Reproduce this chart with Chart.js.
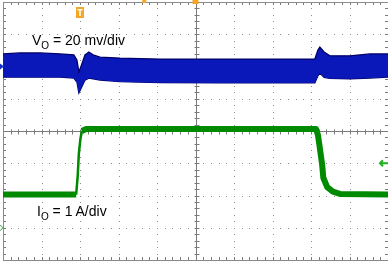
<!DOCTYPE html>
<html lang="en">
<head>
<meta charset="UTF-8">
<title>Load transient</title>
<script src="https://cdn.jsdelivr.net/npm/chart.js"></script>
<style>
    body { margin: 0; background: #fff; }
    .wrap { position: relative; width: 388px; height: 262px; }
    .lbl {
        position: absolute;
        font-family: 'Liberation Sans', Arial, sans-serif;
        font-size: 14px;
        line-height: 14px;
        color: #000;
        white-space: nowrap;
    }
    .lbl span { font-size: 10px; position: relative; top: 4px; }
</style>
</head>
<body>
<div class="wrap">
    <canvas id="scope" width="388" height="262"></canvas>
    <div class="lbl" style="left:32px; top:33px;">V<span>O</span> = 20 mv/div</div>
    <div class="lbl" style="left:37px; top:204px;">I<span>O</span> = 1 A/div</div>
</div>
<script>
// screen divisions: 10 across, 8 high (centre = 0)
const vTime   = [0, 0.44, 0.96, 1.48, 1.84, 1.92, 1.97, 2.03, 2.13, 2.23, 2.34, 2.52, 3.04, 4.08, 5.64, 7.19, 8.10, 8.18, 8.23, 8.34, 8.49, 9.01, 9.53, 10];
const vTop    = [2.39, 2.42, 2.42, 2.39, 2.36, 2.20, 1.83, 2.02, 2.36, 2.45, 2.36, 2.29, 2.26, 2.23, 2.23, 2.23, 2.23, 2.51, 2.60, 2.45, 2.33, 2.33, 2.39, 2.39];
const vBottom = [1.67, 1.67, 1.67, 1.67, 1.64, 1.52, 1.18, 1.33, 1.58, 1.64, 1.62, 1.58, 1.53, 1.50, 1.49, 1.49, 1.49, 1.71, 1.80, 1.66, 1.63, 1.62, 1.64, 1.67];

const iTime  = [0, 1.90, 1.94, 1.97, 2.01, 2.05, 2.16, 5, 8.13, 8.18, 8.23, 8.29, 8.32, 8.42, 8.57, 8.75, 10];
const iLevel = [-1.97, -1.97, -1.4, -0.7, -0.25, 0.0, 0.06, 0.06, 0.06, -0.12, -0.53, -1.05, -1.45, -1.74, -1.88, -1.95, -1.97];

function pts(xs, ys) {
    return xs.map(function(x, i) { return {x: x, y: ys[i]}; });
}

// the rising edge is drawn thin, as on the scope
function riseWidth(w) {
    return function(ctx) {
        return (ctx.p0.parsed.x >= 1.89 && ctx.p1.parsed.x <= 2.06) ? w : undefined;
    };
}

// scope graticule: dotted grid, centre cross and frame with minor ticks
const graticule = {
    id: 'graticule',
    beforeDatasetsDraw(chart) {
        const ctx = chart.ctx;
        const a = chart.chartArea;
        const x = chart.scales.x, y = chart.scales.y;
        ctx.save();
        ctx.fillStyle = '#8c8c8c';
        for (let i = 1; i < 10; i++) {
            if (i === 5) continue;
            const px = Math.round(x.getPixelForValue(i));
            for (let j = 0; j <= 40; j++) {
                ctx.fillRect(px, Math.round(y.getPixelForValue(-4 + j * 0.2)), 1, 1);
            }
        }
        for (let i = -3; i <= 3; i++) {
            if (i === 0) continue;
            const py = Math.round(y.getPixelForValue(i));
            for (let j = 0; j <= 50; j++) {
                ctx.fillRect(Math.round(x.getPixelForValue(j * 0.2)), py, 1, 1);
            }
        }
        ctx.strokeStyle = '#7a7a7a';
        ctx.lineWidth = 1;
        const cx = Math.round(x.getPixelForValue(5)) + 0.5;
        const cy = Math.round(y.getPixelForValue(0)) + 0.5;
        ctx.beginPath();
        ctx.moveTo(cx, a.top); ctx.lineTo(cx, a.bottom);
        ctx.moveTo(a.left, cy); ctx.lineTo(a.right, cy);
        for (let j = 0; j <= 50; j++) {
            const px = Math.round(x.getPixelForValue(j * 0.2)) + 0.5;
            ctx.moveTo(px, cy - 2); ctx.lineTo(px, cy + 3);
            ctx.moveTo(px, a.top); ctx.lineTo(px, a.top + 3);
            ctx.moveTo(px, a.bottom); ctx.lineTo(px, a.bottom - 3);
        }
        for (let j = 0; j <= 40; j++) {
            const py = Math.round(y.getPixelForValue(-4 + j * 0.2)) + 0.5;
            ctx.moveTo(cx - 2, py); ctx.lineTo(cx + 3, py);
            ctx.moveTo(a.left, py); ctx.lineTo(a.left + 3, py);
            ctx.moveTo(a.right, py); ctx.lineTo(a.right - 3, py);
        }
        ctx.stroke();
        ctx.strokeStyle = '#8a8a8a';
        ctx.strokeRect(Math.round(a.left) + 0.5, Math.round(a.top) + 0.5, Math.round(a.right - a.left), Math.round(a.bottom - a.top));
        ctx.restore();
    },
    afterDatasetsDraw(chart) {
        const ctx = chart.ctx;
        const x = chart.scales.x, y = chart.scales.y;
        ctx.save();
        // trigger marker
        const tx = x.getPixelForValue(2);
        ctx.fillStyle = '#f5a623';
        ctx.fillRect(tx - 4, 7, 8, 11);
        ctx.fillStyle = '#fff';
        ctx.fillRect(tx - 2.5, 9, 5, 1.5);
        ctx.fillRect(tx - 0.75, 9, 1.5, 7);
        ctx.fillStyle = '#f5a623';
        ctx.fillRect(x.getPixelForValue(3.67) - 2, 0, 4, 3);
        ctx.fillRect(x.getPixelForValue(5) - 3, 0, 6, 4);
        // channel markers
        let py = y.getPixelForValue(2);
        ctx.fillStyle = '#1030d0';
        ctx.beginPath(); ctx.moveTo(0, py - 3); ctx.lineTo(4, py); ctx.lineTo(0, py + 3); ctx.fill();
        py = y.getPixelForValue(-3);
        ctx.strokeStyle = '#2a9a2a';
        ctx.beginPath(); ctx.moveTo(0, py - 3); ctx.lineTo(3, py); ctx.lineTo(0, py + 3); ctx.stroke();
        py = y.getPixelForValue(-1);
        ctx.strokeStyle = '#22b022';
        ctx.lineWidth = 2;
        ctx.beginPath();
        ctx.moveTo(380, py); ctx.lineTo(388, py);
        ctx.moveTo(383, py - 3); ctx.lineTo(380, py); ctx.lineTo(383, py + 3);
        ctx.stroke();
        ctx.restore();
    }
};

new Chart(document.getElementById('scope'), {
    type: 'line',
    data: {
        datasets: [{
            data: pts(vTime, vTop),
            borderColor: '#00006a',
            borderWidth: 1.3,
            backgroundColor: 'rgb(10, 24, 186)',
            fill: '+1',
            pointRadius: 0
        }, {
            data: pts(vTime, vBottom),
            borderColor: '#00006a',
            borderWidth: 1.3,
            fill: false,
            pointRadius: 0
        }, {
            data: pts(iTime, iLevel),
            borderColor: '#008a00',
            borderWidth: 6,
            fill: false,
            pointRadius: 0,
            borderJoinStyle: 'round',
            segment: { borderWidth: riseWidth(2.5) }
        }, {
            data: pts(iTime, iLevel),
            borderColor: '#36d836',
            borderWidth: 2.5,
            fill: false,
            pointRadius: 0,
            segment: { borderWidth: riseWidth(1.2) }
        }]
    },
    options: {
        responsive: false,
        animation: false,
        devicePixelRatio: 1,
        layout: { padding: { left: 3, top: 2, right: 0, bottom: 2 } },
        plugins: { legend: { display: false }, tooltip: { enabled: false } },
        scales: {
            x: { type: 'linear', min: 0, max: 10, display: false },
            y: { type: 'linear', min: -4, max: 4, display: false }
        }
    },
    plugins: [graticule]
});
</script>
</body>
</html>
